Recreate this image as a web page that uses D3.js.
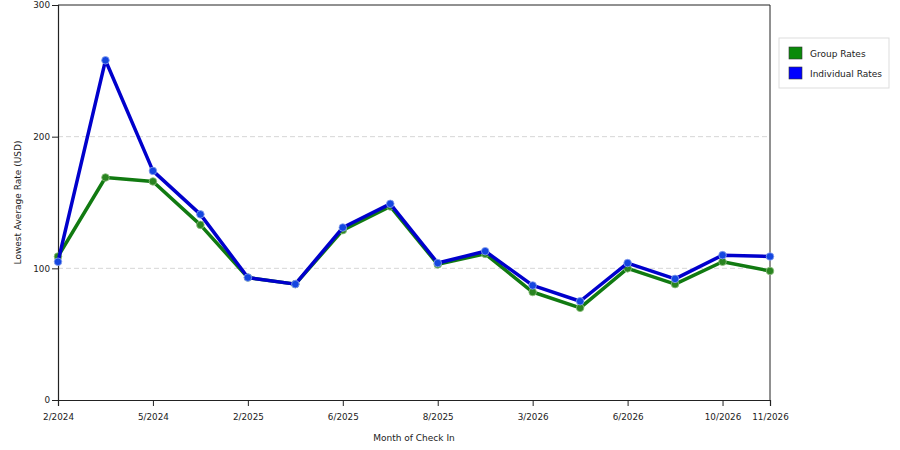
<!DOCTYPE html>
<html>
<head>
<meta charset="utf-8">
<script src="https://cdn.jsdelivr.net/npm/d3@7"></script>
<style>
  body { margin: 0; background: #fff; }
  svg text { font-family: "DejaVu Sans", Verdana, sans-serif; fill: #222; }
</style>
</head>
<body>
<svg id="chart"></svg>
<script>
//Data
const pointIndex = d3.range(16);
const tickIndex = [0, 2, 4, 6, 8, 10, 12, 14, 15];
const tickLabels = ['2/2024', '5/2024', '2/2025', '6/2025', '8/2025', '3/2026', '6/2026', '10/2026', '11/2026'];
const groupRates = [109, 169, 166, 133, 93, 88, 129, 147, 103, 111, 82, 70, 100, 88, 105, 98];
const individualRates = [105, 258, 174, 141, 93, 88, 131, 149, 104, 113, 87, 75, 104, 92, 110, 109];
const yTicks = [0, 100, 200, 300];
const seriesNames = ['Group Rates', 'Individual Rates'];

//Constants
const [width, height] = [900, 450];
const margin = {top: 5, right: 130, bottom: 50, left: 58};

const svg = d3.select('#chart')
    .attr('width', width)
    .attr('height', height);

const x = d3.scalePoint()
    .domain(pointIndex)
    .range([margin.left, width - margin.right]);

const y = d3.scaleLinear()
    .domain([0, 300])
    .range([height - margin.bottom, margin.top]);

// grid lines
svg.append('g')
    .selectAll('line')
    .data([100, 200])
    .enter().append('line')
    .attr('x1', margin.left)
    .attr('x2', width - margin.right)
    .attr('y1', d => y(d))
    .attr('y2', d => y(d))
    .attr('stroke', '#d6d6d6')
    .attr('stroke-dasharray', '5,3');

// frame (top + right)
svg.append('path')
    .attr('d', `M${margin.left},${y(300)}H${width - margin.right}V${y(0)}`)
    .attr('fill', 'none')
    .attr('stroke', '#222');

// y axis
const yAxis = svg.append('g')
    .attr('transform', `translate(${margin.left},0)`)
    .call(d3.axisLeft(y).tickValues(yTicks).tickSize(6).tickPadding(2));

// x axis
const labelOf = d3.scaleOrdinal().domain(tickIndex).range(tickLabels);
const xAxis = svg.append('g')
    .attr('transform', `translate(0,${y(0)})`)
    .call(d3.axisBottom(x).tickValues(tickIndex).tickFormat(d => labelOf(d)).tickSize(6).tickPadding(8));

[xAxis, yAxis].forEach(a => {
    a.select('.domain').attr('stroke', '#222').attr('stroke-width', 1.2);
    a.selectAll('.tick line').attr('stroke', '#222');
    a.selectAll('text').style('font-size', '8.8px').attr('fill', '#222');
});

// titles
svg.append('text')
    .attr('x', (margin.left + width - margin.right) / 2)
    .attr('y', 441)
    .attr('text-anchor', 'middle')
    .style('font-size', '9px')
    .text('Month of Check In');

svg.append('text')
    .attr('transform', `translate(21,${(y(0) + y(300)) / 2}) rotate(-90)`)
    .attr('text-anchor', 'middle')
    .style('font-size', '9px')
    .text('Lowest Average Rate (USD)');

// series
const series = [
    {name: seriesNames[0], values: groupRates, line: '#117a11', dot: '#2a8420', halo: '#8fbf7f', key: '#0a8a0a'},
    {name: seriesNames[1], values: individualRates, line: '#0000cc', dot: '#1446e0', halo: '#8ca4ee', key: '#0000ff'}
];

const line = d3.line()
    .x((d, i) => x(i))
    .y(d => y(d));

series.forEach(s => {
    const g = svg.append('g');
    g.append('path')
        .datum(s.values)
        .attr('d', line)
        .attr('fill', 'none')
        .attr('stroke', s.line)
        .attr('stroke-width', 3.5)
        .attr('stroke-linejoin', 'round');
    g.selectAll('circle')
        .data(s.values)
        .enter().append('circle')
        .attr('cx', (d, i) => x(i))
        .attr('cy', d => y(d))
        .attr('r', 3.8)
        .attr('fill', s.dot)
        .attr('stroke', s.halo)
        .attr('stroke-opacity', 0.8)
        .attr('stroke-width', 1);
});

// legend
const legend = svg.append('g')
    .attr('transform', 'translate(779, 38)');

legend.append('rect')
    .attr('width', 110)
    .attr('height', 50)
    .attr('fill', '#fff')
    .attr('stroke', '#ddd');

const items = legend.selectAll('.item')
    .data(series)
    .enter().append('g')
    .attr('transform', (d, i) => `translate(10, ${9 + i * 20})`);

items.append('rect')
    .attr('width', 13)
    .attr('height', 12)
    .attr('fill', d => d.key)
    .attr('stroke', '#333')
    .attr('stroke-width', 0.6);

items.append('text')
    .attr('x', 21)
    .attr('y', 10)
    .style('font-size', '9px')
    .text(d => d.name);
</script>
</body>
</html>
